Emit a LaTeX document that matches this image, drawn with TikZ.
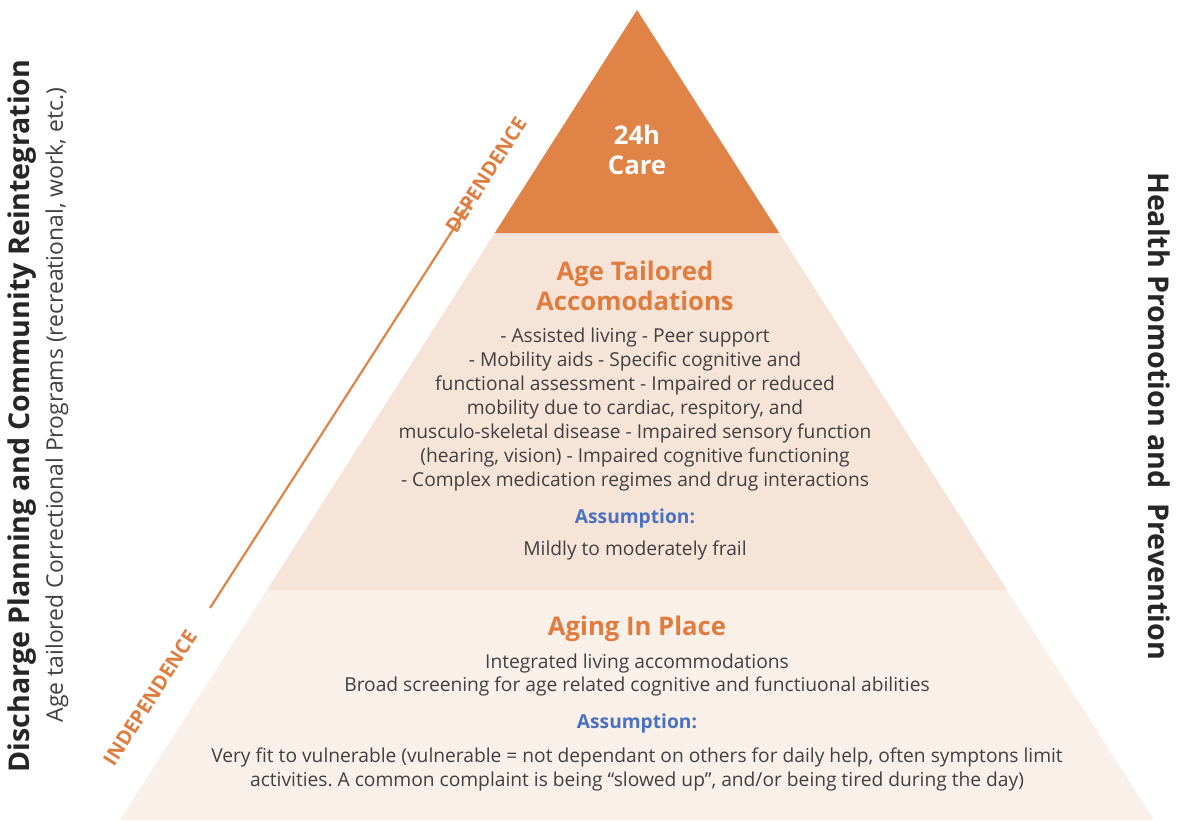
\documentclass[tikz,border=0pt]{standalone}
\usepackage{fontspec}
\setmainfont{Open Sans}
\frenchspacing

\definecolor{carecol}{HTML}{E08346}
\definecolor{midtier}{HTML}{F7E4D9}
\definecolor{lowtier}{HTML}{FAF0EA}
\definecolor{headcol}{HTML}{E07C3E}
\definecolor{assumcol}{HTML}{4A72C0}
\definecolor{bodycol}{HTML}{404040}

\begin{document}
\begin{tikzpicture}[x=1pt,y=-1pt,
  headtext/.style={font=\bfseries\fontsize{25.7}{30}\selectfont, text=headcol, align=center},
  bodytext/.style={font=\fontsize{19.2}{24}\selectfont, text=bodycol, align=center},
  assumtext/.style={font=\bfseries\fontsize{19.2}{24}\selectfont, text=assumcol},
  slopetext/.style={font=\bfseries\fontsize{20}{22}\selectfont, text=headcol, rotate=57.4}]
  \useasboundingbox (0,0) rectangle (1178,820);

  % pyramid tiers
  \fill[lowtier] (266.9,590) -- (1007.1,590) -- (1154,820) -- (120,820) -- cycle;
  \fill[midtier] (494.7,233) -- (779.3,233) -- (1007.1,590) -- (266.9,590) -- cycle;
  \fill[carecol] (637,10) -- (779.3,233) -- (494.7,233) -- cycle;

  % top tier
  \node[headtext, text=white] (care) at (637,150) {24h\\Care};

  % middle tier
  \node[headtext] (tailored) at (635,286) {Age Tailored\\Accomodations};
  \node[bodytext] (tailoredlist) at (635,410) {- Assisted living - Peer support\\
    - Mobility aids - Specific cognitive and\\
    functional assessment - Impaired or reduced\\
    mobility due to cardiac, respitory, and\\
    musculo-skeletal disease - Impaired sensory function\\
    (hearing, vision) - Impaired cognitive functioning\\
    - Complex medication regimes and drug interactions};
  \node[assumtext] (assummid) at (635,519) {Assumption:};
  \node[bodytext] (frail) at (635,550) {Mildly to moderately frail};

  % bottom tier
  \node[headtext] (aging) at (637,629) {Aging In Place};
  \node[bodytext] (aginglist) at (637,675) {Integrated living accommodations\\
    Broad screening for age related cognitive and functiuonal abilities};
  \node[assumtext] (assumlow) at (637,723) {Assumption:};
  \node[bodytext] (fit) at (637,769) {Very fit to vulnerable (vulnerable = not dependant on others for daily help, often symptons limit\\
    activities. A common complaint is being “slowed up”, and/or being tired during the day)};

  % dependence scale
  \coordinate (lineend) at (472,200);
  \coordinate (linestart) at (210,608);
  \draw[carecol, line width=2.2pt] (linestart) -- (lineend);
  \node[slopetext] (dep) at (486,175) {DEPENDENCE};
  \node[slopetext] (indep) at (150,698) {INDEPENDENCE};

  % side titles
  \node[rotate=90, font=\bfseries\fontsize{28.6}{32}\selectfont, text=black!85] (discharge) at (22,416) {Discharge Planning and Community Reintegration};
  \node[rotate=90, font=\fontsize{22.9}{26}\selectfont, text=bodycol] (programs) at (57,405) {Age tailored Correctional Programs (recreational, work, etc.)};
  \node[rotate=-90, font=\bfseries\fontsize{28.6}{32}\selectfont, text=black!85] (health) at (1159,416) {Health Promotion and\ \ Prevention};
\end{tikzpicture}
\end{document}
